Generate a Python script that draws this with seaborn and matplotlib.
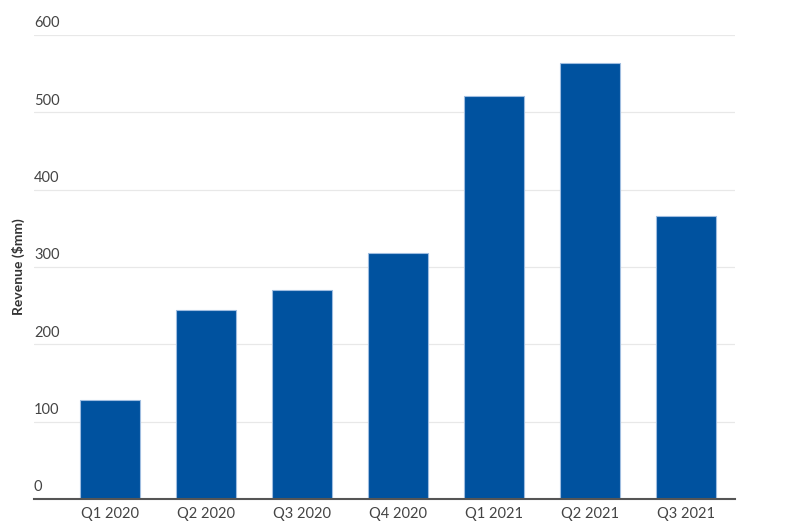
import matplotlib
matplotlib.use("Agg")
import matplotlib.pyplot as plt
import seaborn as sns
import pandas as pd

quarters = ["Q1 2020", "Q2 2020", "Q3 2020", "Q4 2020", "Q1 2021", "Q2 2021", "Q3 2021"]
revenue = [128, 244, 270, 318, 521, 564, 366]
y_ticks = [0, 100, 200, 300, 400, 500, 600]

sns.set_style("white")
plt.rcParams['font.family'] = ['Lato', 'DejaVu Sans']

df = pd.DataFrame({"quarter": quarters, "revenue": revenue})

fig = plt.figure(figsize=(8.04, 5.32), dpi=100)
ax = fig.add_axes([34 / 804, 33 / 532, (735 - 34) / 804, (499 - 35) / 532])

sns.barplot(data=df, x="quarter", y="revenue", color="#00529f", width=0.62,
            edgecolor="#9fbde0", linewidth=0.8, saturation=1, ax=ax)

ax.set_xlim(-0.79, 6.51)
ax.set_ylim(0, 600)
ax.set_yticks(y_ticks)
ax.set_yticklabels([])
ax.tick_params(axis="y", length=0)
ax.tick_params(axis="x", length=0, labelsize=10.5, labelcolor="#444444", pad=6)
ax.yaxis.grid(True, color="#e8e8e8", linewidth=0.9)
ax.set_axisbelow(True)
for t in y_ticks:
    ax.text(0, t + 6, str(t), transform=ax.get_yaxis_transform(),
            ha="left", va="bottom", fontsize=10.5, color="#444444")

for s in ["top", "right", "left"]:
    ax.spines[s].set_visible(False)
ax.spines["bottom"].set_color("#555555")
ax.spines["bottom"].set_linewidth(1.5)

ax.set_xlabel("")
ax.set_ylabel("")
fig.text(18 / 804, 1 - 267 / 532, "Revenue ($mm)", rotation=90, ha="center", va="center",
         fontsize=10, fontweight="bold", color="#333333")

fig.savefig("out.png", dpi=100)
